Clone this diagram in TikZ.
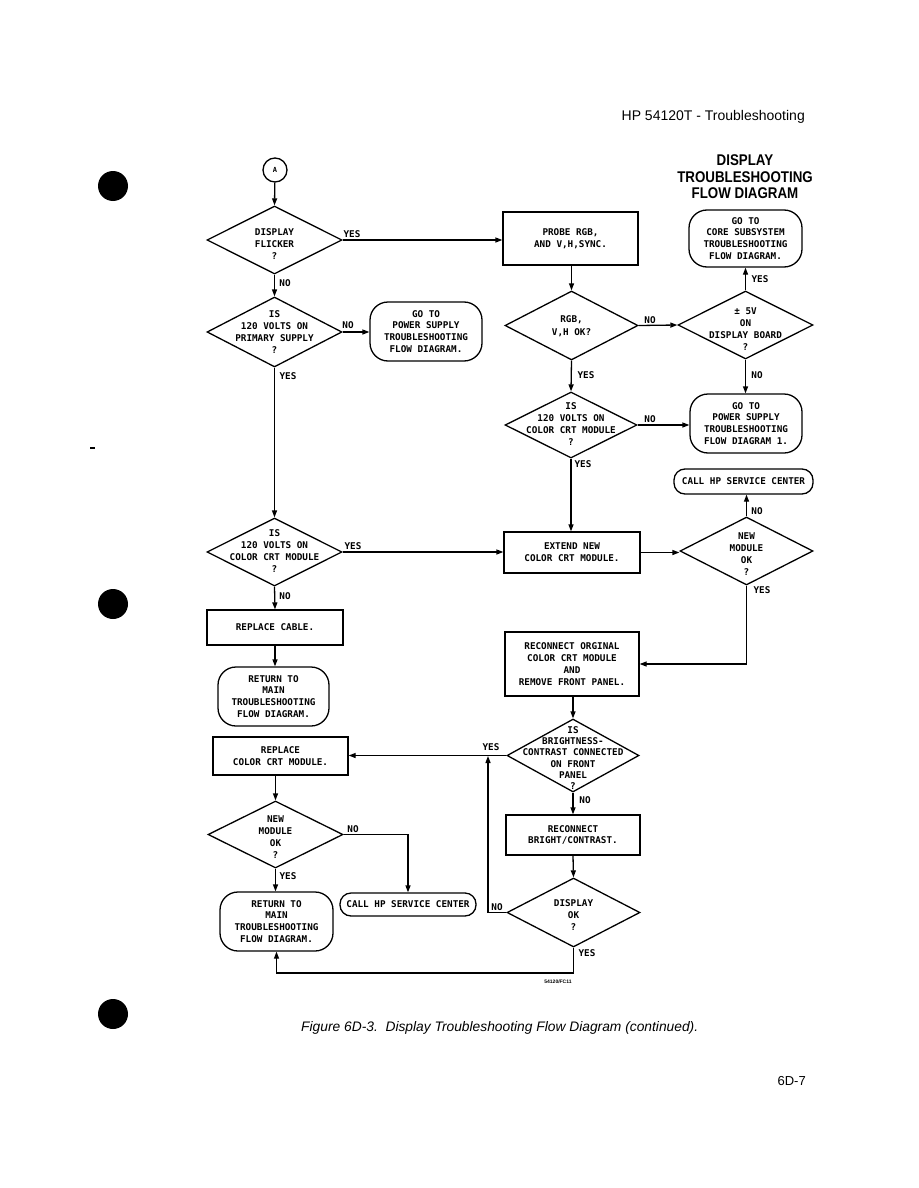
\documentclass[tikz,border=0pt]{standalone}
\usepackage{fontspec}
\setmainfont{Liberation Sans}
\newfontfamily\plotfont{DejaVu Sans Mono}
\usetikzlibrary{shapes.geometric,arrows.meta,calc}
\begin{document}
\begin{tikzpicture}[x=1pt,y=-1pt,
  ln/.style={line width=1.3pt},
  arr/.style={ln,-{Triangle[length=7pt,width=5pt]}},
  ft/.style={font=\plotfont\bfseries\fontsize{9.3}{11.8}\selectfont, align=center, inner sep=0pt},
  lbl/.style={font=\plotfont\bfseries\fontsize{9.3}{11}\selectfont, inner sep=0pt},
  procbox/.style={draw, ln, rectangle, inner sep=0pt, ft},
  dia/.style={draw, ln, diamond, inner sep=0pt},
  term/.style={draw, ln, rectangle, rounded corners=18pt, inner sep=0pt, ft},
  pill/.style={draw, ln, rectangle, rounded corners=11pt, inner sep=0pt, ft},
  hole/.style={fill=black, circle, minimum size=30pt, inner sep=0pt}
]
\fill[white] (0,0) rectangle (918,1188);
\useasboundingbox (0,0) rectangle (918,1188);

% page furniture
\node[anchor=base east, font=\fontsize{14}{16}\selectfont, inner sep=0pt] (hdr) at (805,121) {HP 54120T - Troubleshooting};
\node[anchor=base west, font=\itshape\fontsize{13.8}{16}\selectfont, inner sep=0pt] (cap) at (301,1031) {Figure 6D-3.\ \ Display Troubleshooting Flow Diagram (continued).};
\node[anchor=base east, font=\fontsize{13}{15}\selectfont, inner sep=0pt] (pg) at (806,1085) {6D-7};
\node[font=\bfseries\fontsize{5}{6}\selectfont, inner sep=0pt] (code) at (558,982) {54120/FC11};
\node[hole] (h1) at (113,186) {};
\node[hole] (h2) at (113,604) {};
\node[hole] (h3) at (113,1014) {};
\draw[line width=1.2pt] (90,448) -- (95,448);

% title
\node[font=\bfseries\fontsize{15.5}{16.5}\selectfont, align=center, inner sep=0pt] (title) at (745,177)
  {\scalebox{0.86}[1]{DISPLAY}\\\scalebox{0.86}[1]{TROUBLESHOOTING}\\\scalebox{0.86}[1]{FLOW DIAGRAM}};

% left column
\node[draw, ln, circle, minimum size=24pt, inner sep=0pt, font=\plotfont\bfseries\fontsize{7}{8}\selectfont] (A) at (275,170) {A};
\node[dia, minimum width=135pt, minimum height=68pt] (d1) at (274.5,240) {};
\node[ft] (d1t) at (274.5,244) {DISPLAY\\FLICKER\\?};
\node[dia, minimum width=135pt, minimum height=70pt] (d2) at (274.5,332) {};
\node[ft] (d2t) at (274.5,332) {IS\\120 VOLTS ON\\PRIMARY SUPPLY\\?};
\node[term, minimum width=112pt, minimum height=59pt] (t1) at (426,331.5) {GO TO\\POWER SUPPLY\\TROUBLESHOOTING\\FLOW DIAGRAM.};
\node[dia, minimum width=135pt, minimum height=68pt] (d3) at (274.5,552) {};
\node[ft] (d3t) at (274.5,551) {IS\\120 VOLTS ON\\COLOR CRT MODULE\\?};
\node[procbox, minimum width=136pt, minimum height=35pt] (b1) at (275,627.5) {REPLACE CABLE.};
\node[term, minimum width=111pt, minimum height=59pt] (t2) at (273.5,696.5) {RETURN TO\\MAIN\\TROUBLESHOOTING\\FLOW DIAGRAM.};
\node[procbox, minimum width=135pt, minimum height=38pt] (b2) at (280.5,756) {REPLACE\\COLOR CRT MODULE.};
\node[dia, minimum width=135pt, minimum height=67pt] (d4) at (275.5,834.5) {};
\node[ft] (d4t) at (275.5,837) {NEW\\MODULE\\OK\\?};
\node[pill, minimum width=136pt, minimum height=23pt] (t3) at (408,904.5) {CALL HP SERVICE CENTER};
\node[term, minimum width=113pt, minimum height=59pt] (t4) at (276.5,921.5) {RETURN TO\\MAIN\\TROUBLESHOOTING\\FLOW DIAGRAM.};

% right column
\node[procbox, minimum width=135pt, minimum height=53pt] (b3) at (570.5,238.5) {PROBE RGB,\\AND V,H,SYNC.};
\node[dia, minimum width=133pt, minimum height=69pt] (d5) at (571.5,325.5) {};
\node[ft, font=\plotfont\bfseries\fontsize{9.3}{13}\selectfont] (d5t) at (571.5,326) {RGB,\\V,H OK?};
\node[dia, minimum width=135pt, minimum height=68pt] (d6) at (745.5,325) {};
\node[ft] (d6t) at (745.5,329) {± 5V\\ON\\DISPLAY BOARD\\?};
\node[term, minimum width=113pt, minimum height=57pt] (t5) at (745.5,238.5) {GO TO\\CORE SUBSYSTEM\\TROUBLESHOOTING\\FLOW DIAGRAM.};
\node[term, minimum width=112pt, minimum height=59pt] (t6) at (746,423.5) {GO TO\\POWER SUPPLY\\TROUBLESHOOTING\\FLOW DIAGRAM 1.};
\node[dia, minimum width=132pt, minimum height=66pt] (d7) at (571,425) {};
\node[ft] (d7t) at (571,424) {IS\\120 VOLTS ON\\COLOR CRT MODULE\\?};
\node[procbox, minimum width=136pt, minimum height=41pt] (b4) at (572,552.5) {EXTEND NEW\\COLOR CRT MODULE.};
\node[dia, minimum width=133pt, minimum height=68pt] (d8) at (746.5,551) {};
\node[ft] (d8t) at (746.5,554) {NEW\\MODULE\\OK\\?};
\node[pill, minimum width=139pt, minimum height=25pt] (t7) at (743.5,481.5) {CALL HP SERVICE CENTER};
\node[procbox, minimum width=134pt, minimum height=64pt] (b5) at (572,664) {RECONNECT ORGINAL\\COLOR CRT MODULE\\AND\\REMOVE FRONT PANEL.};
\node[dia, minimum width=132pt, minimum height=73pt] (d9) at (573,755.5) {};
\node[ft, font=\plotfont\bfseries\fontsize{9.3}{11.2}\selectfont] (d9t) at (573,758) {IS\\BRIGHTNESS-\\CONTRAST CONNECTED\\ON FRONT\\PANEL\\?};
\node[procbox, minimum width=134pt, minimum height=40pt] (b6) at (573,835) {RECONNECT\\BRIGHT/CONTRAST.};
\node[dia, minimum width=133pt, minimum height=69pt] (d10) at (573.5,912.5) {};
\node[ft] (d10t) at (573.5,915) {DISPLAY\\OK\\?};

% helper coordinates
\coordinate (j1) at (488,756);
\coordinate (bl) at (573.5,973);

% connectors
\draw[arr] (A) -- (d1.north);
\draw[arr] (d1.east) -- (d1.east -| b3.west);
\draw[arr] (d1.south) -- (d2.north);
\draw[arr] (d2.east) -- (d2.east -| t1.west);
\draw[arr] (d2.south) -- (d3.north);
\draw[arr] (d3.east) -- (d3.east -| b4.west);
\draw[arr] (d3.south) -- (b1.north);
\draw[arr] (b1.south) -- (b1.south |- t2.north);
\draw[arr] (d4.north |- b2.south) -- (d4.north);
\draw[arr] (d4.east) -| (t3.north);
\draw[arr] (d4.south) -- (d4.south |- t4.north);
\draw[arr] (d5.north |- b3.south) -- (d5.north);
\draw[arr] (d5.east) -- (d6.west);
\draw[arr] (d6.north) -- (t5.south);
\draw[arr] (d6.south) -- (d6.south |- t6.north);
\draw[arr] (d5.south) -- (d7.north);
\draw[arr] (d7.east) -- (d7.east -| t6.west);
\draw[arr] (d7.south) -- (d7.south |- b4.north);
\draw[arr] (b4.east) -- (b4.east -| d8.west);
\draw[arr] (d8.north) -- (d8.north |- t7.south);
\draw[arr] (d8.south) |- (b5.east);
\draw[arr] (d9.north |- b5.south) -- (d9.north);
\draw[arr] (d9.west) -- (d9.west -| b2.east);
\draw[arr] (d9.south) -- (b6.north);
\draw[arr] (b6.south) -- (d10.north);
\draw[arr] (d10.west) -| (j1);
\draw[arr] (d10.south) -- (bl) -| (t4.south);

% connector labels
\node[lbl] (y1) at (352,234) {YES};
\node[lbl] (n1) at (285,283) {NO};
\node[lbl] (n2) at (348,325) {NO};
\node[lbl] (y2) at (288,376) {YES};
\node[lbl] (y3) at (353,546) {YES};
\node[lbl] (n3) at (285,596) {NO};
\node[lbl] (n4) at (353,829) {NO};
\node[lbl] (y4) at (288,876) {YES};
\node[lbl] (n5) at (650,320) {NO};
\node[lbl] (y5) at (760,279) {YES};
\node[lbl] (n6) at (757,375) {NO};
\node[lbl] (y6) at (586,375) {YES};
\node[lbl] (n7) at (650,419) {NO};
\node[lbl] (y7) at (583,464) {YES};
\node[lbl] (n8) at (757,511) {NO};
\node[lbl] (y8) at (762,590) {YES};
\node[lbl] (y9) at (491,747) {YES};
\node[lbl] (n9) at (585,800) {NO};
\node[lbl] (n10) at (497,907) {NO};
\node[lbl] (y10) at (587,953) {YES};
\end{tikzpicture}
\end{document}
